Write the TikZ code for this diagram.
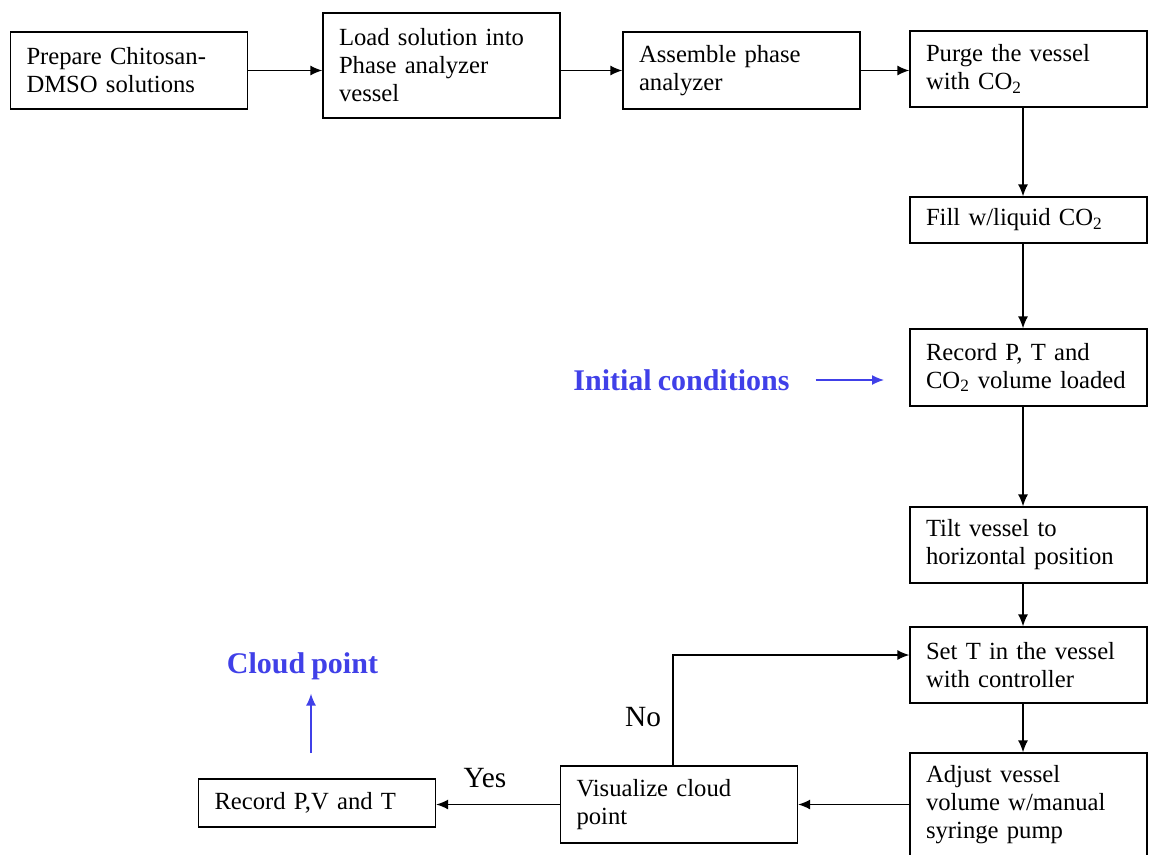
\documentclass[tikz,border=0pt]{standalone}
\usepackage{fontspec}
\setmainfont{Liberation Serif}
\usepackage{tikz}
\usetikzlibrary{positioning,calc,arrows.meta}
\definecolor{noteblue}{RGB}{64,64,232}
\newcommand{\cotwo}{CO\textsubscript{2}}
\newcommand{\tightspace}{\spaceskip=0.2em plus 0.05em minus 0.02em}
\tikzset{
	stepbox/.style={draw,line width=1pt,rectangle,align=left,inner xsep=12pt,inner ysep=0pt,
		minimum width=177.75pt,text width=153.75pt,font=\fontsize{18.5}{21}\selectfont\tightspace},
	flow/.style={line width=1pt,-{Latex[length=9pt,width=7.5pt]}},
	blueflow/.style={line width=1pt,noteblue,-{Latex[length=9pt,width=7.5pt]}},
	note/.style={noteblue,font=\fontsize{22.5}{24}\selectfont\bfseries\tightspace},
	answer/.style={font=\fontsize{22}{24}\selectfont}
}

\begin{document}
\begin{tikzpicture}[x=0.75pt,y=-0.75pt]
\useasboundingbox (0,0) rectangle (1149,854);
\clip (0,0) rectangle (1149,854); % last box runs past the bottom

%Ligne du haut
\node[stepbox,minimum height=57.75pt] (prep) at (129,70.5) {Prepare Chitosan-\\DMSO solutions};
\node[stepbox,minimum height=78.75pt] (load) at (441.5,65.5) {Load solution into\\Phase analyzer\\vessel};
\node[stepbox,minimum height=57.75pt] (assemble) at (741.5,70.5) {Assemble phase\\analyzer};
\node[stepbox,minimum height=57pt] (purge) at (1028.5,69) {Purge the vessel\\with \cotwo};

%Colonne de droite
\node[stepbox,minimum height=34.5pt] (fill) at (1028.5,220) {Fill w/liquid \cotwo};
\node[stepbox,minimum height=57.75pt] (record) at (1028.5,367.5) {Record P, T and\\\cotwo\ volume loaded};
\node[stepbox,minimum height=57pt] (tilt) at (1028.5,545) {Tilt vessel to\\horizontal position};
\node[stepbox,minimum height=57pt] (setT) at (1028.5,665) {Set T in the vessel\\with controller};
\node[stepbox,minimum height=77.25pt] (adjust) at (1028.5,804.5) {Adjust vessel\\volume w/manual\\syringe pump};

%Ligne du bas
\node[stepbox,minimum height=57.75pt] (visual) at (679,804.5) {Visualize cloud\\point};
\node[stepbox,minimum height=36pt] (recPVT) at (317,803) {Record P,V and T};

%Notes en bleu
\node[note] (init) at (681.5,380) {Initial conditions};
\node[note] (cloud) at (302.5,666) {Cloud point};

%Fleches du haut
\draw[flow] (prep.east) -- (prep.east -| load.west);
\draw[flow] (assemble.west -| load.east) -- (assemble.west);
\draw[flow] (assemble.east) -- (assemble.east -| purge.west);

%Fleches verticales
\coordinate (spine) at (1023,0);
\draw[flow] (purge.south -| spine) -- (fill.north -| spine);
\draw[flow] (fill.south -| spine) -- (record.north -| spine);
\draw[flow] (record.south -| spine) -- (tilt.north -| spine);
\draw[flow] (tilt.south -| spine) -- (setT.north -| spine);
\draw[flow] (setT.south -| spine) -- (adjust.north -| spine);

%Boucle et sorties
\draw[flow] (adjust.west) -- (adjust.west -| visual.east);
\coordinate (noturn) at (673,655);
\draw[flow] (visual.north -| noturn) -- (noturn) -- (noturn -| setT.west);
\node[answer] (no) at (643,717) {No};
\draw[flow] (visual.west) -- (visual.west -| recPVT.east);
\node[answer] (yes) at (485,778) {Yes};

\draw[blueflow,shorten <=16pt,shorten >=19pt] (init.east) -- (init.east -| record.west);
\draw[blueflow,shorten <=19pt,shorten >=7pt] ([xshift=-4.5pt]recPVT.north) -- ([xshift=-4.5pt]recPVT.north |- cloud.south);

\end{tikzpicture}
\end{document}
